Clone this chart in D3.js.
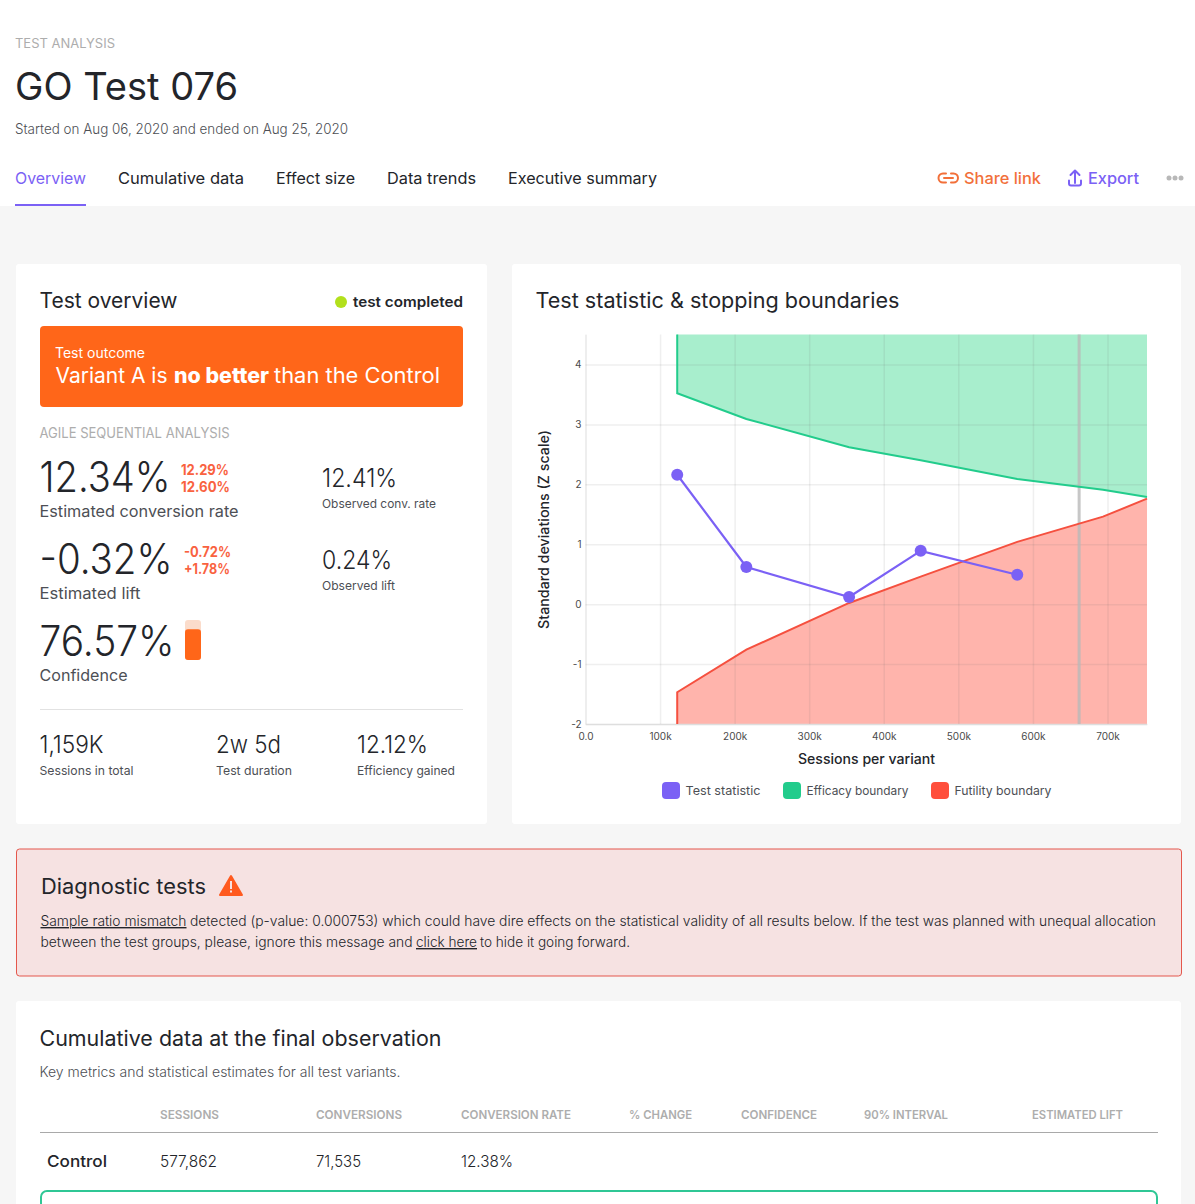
<!DOCTYPE html>
<html lang="en">
<head>
<meta charset="UTF-8">
<title>GO Test 076</title>
<script src="https://d3js.org/d3.v7.min.js"></script>
<style>
    html, body { margin: 0; padding: 0; background: #f6f6f6; overflow: hidden; }
    svg { display: block; font-family: Inter, sans-serif; }
    .axis text { font-family: Inter, sans-serif; font-size: 10px; fill: #4a4a4a; }
    .axis path.domain { stroke: #ececec; stroke-width: 1.5; }
    .axis .tick line { stroke: rgba(110, 110, 110, 0.11); stroke-width: 1.5; }
</style>
</head>
<body>
<script>
// chart values
const sessionsPerVariant = [123000, 215700, 353500, 449500, 579000, 694000, 753000];
const testStatistic = [2.16, 0.62, 0.12, 0.89, 0.49];
const efficacyBoundary = [3.52, 3.09, 2.62, 2.40, 2.09, 1.91, 1.79];
const futilityBoundary = [-1.47, -0.76, 0.02, 0.46, 1.04, 1.46, 1.76];
const plannedSessions = 662000;

const xTickValues = [0, 100000, 200000, 300000, 400000, 500000, 600000, 700000];
const xTickLabels = ["0.0", "100k", "200k", "300k", "400k", "500k", "600k", "700k"];
const yTickValues = [-2, -1, 0, 1, 2, 3, 4];
const yTickLabels = ["-2", "-1", "0", "1", "2", "3", "4"];
const legendNames = ["Test statistic", "Efficacy boundary", "Futility boundary"];

const tabNames = ["Overview", "Cumulative data", "Effect size", "Data trends", "Executive summary"];
const tableHeaders = ["SESSIONS", "CONVERSIONS", "CONVERSION RATE", "% CHANGE", "CONFIDENCE", "90% INTERVAL", "ESTIMATED LIFT"];
const controlRow = ["577,862", "71,535", "12.38%"];
const confidence = 76.57;

const W = 1195, H = 1204;
const INK = "#23252a", BODY = "#4d4f55", MUTED = "#adadad", ORANGE = "#ff6619", PURPLE = "#7b61f5",
    GREEN = "#22cc8c", RED = "#f5503f", CORAL = "#f9623f", LEGEND_RED = "#ff4f3c";

const svg = d3.select("body").append("svg").attr("width", W).attr("height", H);

function box(x, y, w, h, fill, r, stroke) {
    return svg.append("rect").attr("x", x).attr("y", y).attr("width", w).attr("height", h)
        .attr("fill", fill).attr("rx", r || 0).attr("stroke", stroke || "none");
}

// width = measured width in the picture, the installed fonts run a bit different
function label(x, y, str, size, weight, color, width, parent) {
    const t = (parent || svg).append("text").attr("x", x).attr("y", y).text(str)
        .attr("font-size", size).attr("font-weight", weight).attr("fill", color);
    if (width) t.attr("textLength", width).attr("lengthAdjust", "spacingAndGlyphs");
    return t;
}

// page header
box(0, 0, W, 206, "#fff");
label(15, 48, "TEST ANALYSIS", 13, 400, MUTED, 100);
label(15, 100, "GO Test 076", 38, 400, INK, 223);
label(15, 134, "Started on Aug 06, 2020 and ended on Aug 25, 2020", 14, 300, BODY, 333);

const tabX = d3.scaleOrdinal().domain(tabNames).range([15, 118, 276, 387, 508]);
const tabW = d3.scaleOrdinal().domain(tabNames).range([71, 126, 79, 89, 149]);
tabNames.forEach((d, i) => label(tabX(d), 184, d, 16, 400, i ? INK : PURPLE, tabW(d)));
box(15, 204, 71, 2, PURPLE);

// share link / export
const share = svg.append("g").attr("fill", "none").attr("stroke", "#f2703a").attr("stroke-width", 2).attr("stroke-linecap", "round");
share.append("path").attr("d", "M946 173.5h-3a4.5 4.5 0 0 0 0 9h3M951 173.5h2.5a4.5 4.5 0 0 1 0 9H951M944 178h9");
label(964, 184, "Share link", 16, 500, "#f2703a", 77);
const exportIcon = svg.append("g").attr("fill", "none").attr("stroke", PURPLE).attr("stroke-width", 2).attr("stroke-linecap", "round").attr("stroke-linejoin", "round");
exportIcon.append("path").attr("d", "M1075 183V171.5M1070.5 175l4.5-4.5 4.5 4.5M1069 180.5v3a2 2 0 0 0 2 2h8a2 2 0 0 0 2-2v-3");
label(1088, 184, "Export", 16, 500, PURPLE, 51);
[1169, 1175, 1181].forEach(cx => svg.append("circle").attr("cx", cx).attr("cy", 178).attr("r", 2.5).attr("fill", "#b8b8b8"));

// test overview card
box(16, 264, 471, 560, "#fff", 3);
label(39.5, 308, "Test overview", 21, 400, INK, 138);
svg.append("circle").attr("cx", 341).attr("cy", 302).attr("r", 6).attr("fill", "#b2e01c");
label(353, 307, "test completed", 14, 600, INK, 110);
box(40, 326, 423, 81, ORANGE, 4);
label(55, 358, "Test outcome", 14, 400, "#fff", 90);
label(55.5, 383, "Variant A is", 21, 400, "#fff", 112);
label(174, 383, "no better", 21, 800, "#fff", 95);
label(274, 383, "than the Control", 21, 400, "#fff", 166);
label(39.5, 438, "AGILE SEQUENTIAL ANALYSIS", 14, 400, MUTED, 190);

label(39.5, 492, "12.34%", 42, 300, INK, 131);
label(181, 475, "12.29%", 14, 700, CORAL, 48);
label(181, 492, "12.60%", 14, 700, CORAL, 49);
label(39.5, 517, "Estimated conversion rate", 16, 400, BODY, 199);
label(322, 487, "12.41%", 26, 300, INK, 75);
label(322, 508, "Observed conv. rate", 12, 400, BODY, 114);

label(39.5, 574, "-0.32%", 42, 300, INK, 133);
label(184, 557, "-0.72%", 14, 700, CORAL, 47);
label(184, 574, "+1.78%", 14, 700, CORAL, 46);
label(39.5, 599, "Estimated lift", 16, 400, BODY, 101);
label(322, 569, "0.24%", 26, 300, INK, 70);
label(322, 590, "Observed lift", 12, 400, BODY, 73);

label(39.5, 656, "76.57%", 42, 300, INK, 135);
label(39.5, 681, "Confidence", 16, 400, BODY, 88);

// confidence gauge
const gauge = d3.scaleLinear().domain([0, 100]).range([660, 620]);
box(185, gauge(100), 16, gauge(0) - gauge(100), "#fbdccb", 3);
box(185, gauge(confidence), 16, gauge(0) - gauge(confidence), ORANGE, 3);

box(40, 709, 423, 1, "#e2e2e2");
label(39.5, 753, "1,159K", 24, 300, INK, 64);
label(39.5, 775, "Sessions in total", 12, 400, BODY, 94);
label(216, 753, "2w 5d", 24, 300, INK, 65);
label(216, 775, "Test duration", 12, 400, BODY, 76);
label(357, 753, "12.12%", 24, 300, INK, 71);
label(357, 775, "Efficiency gained", 12, 400, BODY, 98);

// stopping boundaries card
box(512, 264, 669, 560, "#fff", 3);
label(535.5, 308, "Test statistic & stopping boundaries", 21, 400, INK, 364);

const x = d3.scaleLinear().domain([0, 753000]).range([585.5, 1147]);
const y = d3.scaleLinear().domain([-2, 4.5]).range([724, 334.5]);
const xMax = x.domain()[1], yMin = y.domain()[0], yMax = y.domain()[1];

const rows = sessionsPerVariant.map((s, i) => ({ s, efficacy: efficacyBoundary[i], futility: futilityBoundary[i] }));
const firstSession = sessionsPerVariant[0];

svg.append("path").datum(rows).attr("fill", "#a8eecd")
    .attr("d", d3.area().x(d => x(d.s)).y0(y(yMax)).y1(d => y(d.efficacy)));
svg.append("path").datum(rows).attr("fill", "#ffb4ac")
    .attr("d", d3.area().x(d => x(d.s)).y0(y(yMin)).y1(d => y(d.futility)));

svg.append("g").attr("class", "axis")
    .attr("transform", `translate(0,${y(yMin)})`)
    .call(d3.axisBottom(x).tickValues(xTickValues).tickFormat((d, i) => xTickLabels[i])
        .tickSize(-(y(yMin) - y(yMax))).tickSizeOuter(0).tickPadding(9));
svg.append("g").attr("class", "axis")
    .attr("transform", `translate(${x(0)},0)`)
    .call(d3.axisLeft(y).tickValues(yTickValues).tickFormat((d, i) => yTickLabels[i])
        .tickSize(-(x(xMax) - x(0))).tickSizeOuter(0).tickPadding(4));

svg.append("line").attr("x1", x(plannedSessions)).attr("x2", x(plannedSessions))
    .attr("y1", y(yMax)).attr("y2", y(yMin))
    .attr("stroke", "#b9b9b9").attr("stroke-opacity", 0.8).attr("stroke-width", 3);

const edge = d3.line().x(d => x(d[0])).y(d => y(d[1]));
svg.append("path")
    .datum([[firstSession, yMax]].concat(rows.map(d => [d.s, d.efficacy])))
    .attr("fill", "none").attr("stroke", GREEN).attr("stroke-width", 2).attr("d", edge);
svg.append("path")
    .datum([[firstSession, yMin]].concat(rows.map(d => [d.s, d.futility])))
    .attr("fill", "none").attr("stroke", RED).attr("stroke-width", 2).attr("d", edge);

const stat = testStatistic.map((v, i) => [sessionsPerVariant[i], v]);
svg.append("path").datum(stat).attr("fill", "none").attr("stroke", PURPLE).attr("stroke-width", 2.2).attr("d", edge);
svg.selectAll(".pt").data(stat).enter().append("circle").attr("class", "pt")
    .attr("cx", d => x(d[0])).attr("cy", d => y(d[1])).attr("r", 6).attr("fill", PURPLE);

label(798, 764, "Sessions per variant", 14, 500, INK, 137);
label(0, 0, "Standard deviations (Z scale)", 14, 500, INK, 199)
    .attr("transform", "translate(549,629) rotate(-90)");

const legendX = d3.scaleOrdinal().domain(legendNames).range([662, 783, 931]);
const legendW = d3.scaleOrdinal().domain(legendNames).range([75, 102, 97]);
const legendC = d3.scaleOrdinal().domain(legendNames).range([PURPLE, GREEN, LEGEND_RED]);
legendNames.forEach(d => {
    box(legendX(d), 782, 18, 17, legendC(d), 4);
    label(legendX(d) + 23.5, 795, d, 12, 400, BODY, legendW(d));
});

// diagnostic banner
box(16.5, 849, 1165, 127, "#f6e2e2", 3, "#e4574c");
label(41, 894, "Diagnostic tests", 21, 400, INK, 165);
svg.append("path").attr("fill", "#ff5a1f").attr("stroke", "#ff5a1f").attr("stroke-width", 2).attr("stroke-linejoin", "round")
    .attr("d", "M231 876L242 895H220Z");
box(230, 881, 2, 8, "#f6e2e2");
box(230, 890.5, 2, 2, "#f6e2e2");
label(40.5, 926, "Sample ratio mismatch", 14, 300, INK, 146).attr("text-decoration", "underline");
label(190, 926, "detected (p-value: 0.000753) which could have dire effects on the statistical validity of all results below. If the test was planned with unequal allocation", 14, 300, INK, 966);
label(40.5, 947, "between the test groups, please, ignore this message and", 14, 300, INK, 372);
label(416, 947, "click here", 14, 300, INK, 61).attr("text-decoration", "underline");
label(480, 947, "to hide it going forward.", 14, 300, INK, 150);

// cumulative table card
box(16, 1001, 1165, 260, "#fff", 3);
label(39.5, 1046, "Cumulative data at the final observation", 21, 400, INK, 402);
label(39.5, 1077, "Key metrics and statistical estimates for all test variants.", 14, 300, BODY, 361);

const colX = d3.scaleOrdinal().domain(tableHeaders).range([160, 316, 461, 629, 741, 864, 1032]);
const colW = d3.scaleOrdinal().domain(tableHeaders).range([59, 86, 110, 63, 76, 84, 91]);
tableHeaders.forEach(d => label(colX(d), 1119, d, 12, 600, MUTED, colW(d)));
box(40, 1132, 1118, 1, "#a9a9a9");
label(47, 1167, "Control", 16, 500, INK, 60);
const valueW = [57, 45, 52];
controlRow.forEach((d, i) => label(colX(tableHeaders[i]), 1167, d, 16, 300, INK, valueW[i]));
box(41, 1191, 1116, 40, "#fff", 6, "#2fc795").attr("stroke-width", 2);
</script>
</body>
</html>
